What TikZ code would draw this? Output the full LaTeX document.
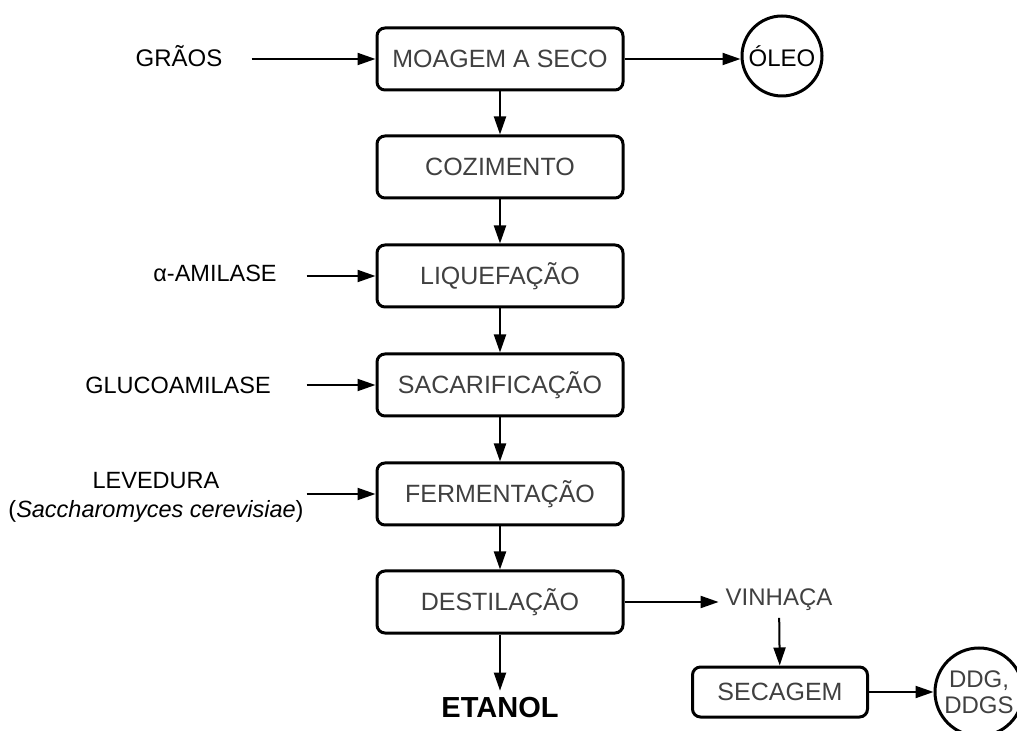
\documentclass[tikz,border=0pt]{standalone}
\usepackage{fontspec}
\setmainfont{Liberation Sans}
\usetikzlibrary{arrows.meta,positioning}

\definecolor{txtgray}{HTML}{404040}

\tikzset{
  etapa/.style = {draw, line width=1.5pt, rounded corners=4pt, minimum width=123pt, minimum height=31pt, font=\fontsize{12.5}{15}\selectfont, text=txtgray},
  produto/.style = {draw, circle, line width=1.5pt, inner sep=0pt, align=center, font=\fontsize{12}{13}\selectfont},
  entrada/.style = {font=\fontsize{11.75}{14.5}\selectfont, align=center},
  seta/.style = {-{Triangle[length=9pt,width=6pt]}, line width=1pt},
}

\begin{document}
\begin{tikzpicture}[x=0.5pt, y=-0.5pt]
\useasboundingbox (0,0) rectangle (1017,731);

% etapas do processo
\node[etapa] (moagem) at (500,59)  {MOAGEM A SECO};
\node[etapa] (cozi)   at (500,167) {COZIMENTO};
\node[etapa] (liq)    at (500,276) {LIQUEFAÇÃO};
\node[etapa] (sac)    at (500,385) {SACARIFICAÇÃO};
\node[etapa] (ferm)   at (500,494) {FERMENTAÇÃO};
\node[etapa] (dest)   at (500,602) {DESTILAÇÃO};
\node[etapa, minimum width=87.5pt, minimum height=25pt] (secagem) at (780,692) {SECAGEM};

% entradas
\node[entrada, font=\fontsize{12}{14.5}\selectfont] (graos) at (179,56) {GRÃOS};
\node[entrada] (amilase)  at (215,273) {α-AMILASE};
\node[entrada] (glucoam)  at (178,385) {GLUCOAMILASE};
\node[entrada] (levedura) at (156,497) {LEVEDURA\\(\textit{Saccharomyces cerevisiae})};

% produtos
\node[produto, minimum size=40pt] (oleo) at (782,56) {ÓLEO};
\node[produto, minimum size=44pt, text=txtgray] (ddg) at (979,692) {DDG,\\DDGS};
\node[font=\fontsize{12}{14}\selectfont, text=txtgray] (vinhaca) at (779,600) {VINHAÇA};
\node[font=\bfseries\fontsize{14.5}{17}\selectfont] (etanol) at (500,708) {ETANOL};

% setas
\draw[seta] (moagem) -- (cozi);
\draw[seta] (cozi) -- (liq);
\draw[seta] (liq) -- (sac);
\draw[seta] (sac) -- (ferm);
\draw[seta] (ferm) -- (dest);
\draw[seta] (dest) -- (etanol);
\draw[seta] ([xshift=-62pt]moagem.west) -- (moagem.west);
\draw[seta] ([xshift=-34.5pt]liq.west) -- (liq.west);
\draw[seta] ([xshift=-34.5pt]sac.west) -- (sac.west);
\draw[seta] ([xshift=-34.5pt]ferm.west) -- (ferm.west);
\draw[seta] (moagem.east) -- (moagem.east -| oleo.west);
\draw[seta] (dest.east) -- (dest.east -| vinhaca.west);
\draw[seta] (vinhaca) -- (secagem);
\draw[seta] (secagem) -- (ddg);
\end{tikzpicture}
\end{document}
